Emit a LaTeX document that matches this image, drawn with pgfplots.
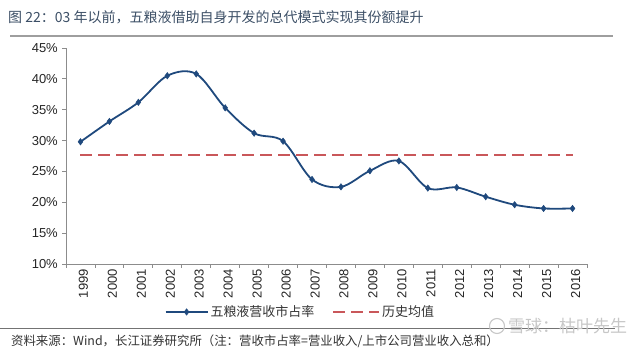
\documentclass[border=0pt]{standalone}
\usepackage{fontspec}
\setmainfont{Liberation Sans}
\newfontfamily\cjk{Noto Sans CJK SC}
\usepackage{pgfplots}
\pgfplotsset{compat=1.18}
\definecolor{navy}{HTML}{1F497D}
\definecolor{meanred}{HTML}{C9575A}
\definecolor{titlecol}{HTML}{3C4F66}
\definecolor{axisgray}{HTML}{8C8C8C}
\pgfplotsset{
  bluelegend/.style={legend image code/.code={\draw[##1,mark repeat=2,mark phase=2] plot coordinates {(0pt,0pt)(21pt,0pt)(42pt,0pt)};}},
  redlegend/.style={legend image code/.code={\draw[##1] (0pt,0pt) -- (46pt,0pt);}},
}
\begin{document}
\begin{tikzpicture}[x=1pt,y=1pt]
\path[use as bounding box] (0,0) rectangle (640,352);
% title
\node[anchor=west,inner sep=0pt,text=titlecol,font=\cjk\fontsize{14}{16}\selectfont] at (8,335) {图 22：03 年以前，五粮液借助自身开发的总代模式实现其份额提升};
\draw[line width=2.4pt,color=black!38] (10,316) -- (613,316);
% source
\draw[line width=0.8pt,color=black!55] (0,24) -- (615,24);
\node[anchor=west,inner sep=0pt,text=black!80,font=\cjk\fontsize{12.4}{14}\selectfont] at (11,11) {资料来源：Wind，长江证券研究所（注：营收市占率=营业收入/上市公司营业收入总和）};
\node[anchor=west,inner sep=0pt,text=black!22,font=\cjk\fontsize{17}{19}\selectfont] at (508,26) {雪球：枯叶先生};
\draw[black!22,line width=1.1pt] (497,26) circle (7.5);
\begin{axis}[
  at={(66pt,88pt)}, anchor=south west,
  scale only axis, width=521pt, height=216pt,
  xmin=-0.5, xmax=17.5, ymin=10, ymax=45,
  axis x line*=bottom, axis y line*=left,
  axis line style={axisgray, line width=0.9pt, -},
  xtick={0,...,17},
  xticklabels={1999,2000,2001,2002,2003,2004,2005,2006,2007,2008,2009,2010,2011,2012,2013,2014,2015,2016},
  minor xtick={-0.5,0.5,...,17.5},
  ytick={10,15,...,45},
  yticklabel={\pgfmathprintnumber{\tick}\%},
  tick align=outside,
  major tick length=4pt, minor tick length=4pt,
  x tick style={draw=none},
  minor x tick style={draw=axisgray, line width=0.8pt},
  y tick style={draw=axisgray, line width=0.8pt},
  /pgf/number format/assume math mode=true,
  tick label style={font=\fontsize{13}{15}\selectfont, text=black!85},
  xticklabel style={rotate=90, anchor=east, inner sep=1pt, yshift=-3pt},
  yticklabel style={inner sep=1pt, xshift=-3pt},
  legend style={at={(0.45,-0.222)}, anchor=center, draw=none, fill=none,
    font=\cjk\fontsize{13}{15}\selectfont, text=black!80,
    /tikz/every even column/.append style={column sep=16pt}},
  legend columns=2,
  legend cell align=left,
]
\addplot[navy, line width=1.8pt, smooth, tension=0.55, mark=diamond*, mark size=3.2pt,
  mark options={solid, fill=navy, draw=navy, line width=0.5pt}, bluelegend]
coordinates {
(0,29.8) (1,33.1) (2,36.2) (3,40.5) (4,40.8) (5,35.3) (6,31.2) (7,29.9) (8,23.7)
(9,22.5) (10,25.1) (11,26.7) (12,22.3) (13,22.4) (14,20.9) (15,19.6) (16,19.0) (17,19.0)
};
\addlegendentry{五粮液营收市占率}
\addplot[meanred, line width=1.7pt, dash pattern=on 12pt off 6pt, redlegend]
coordinates {(0,27.7) (17,27.7)};
\addlegendentry{历史均值}
\end{axis}
\end{tikzpicture}
\end{document}
